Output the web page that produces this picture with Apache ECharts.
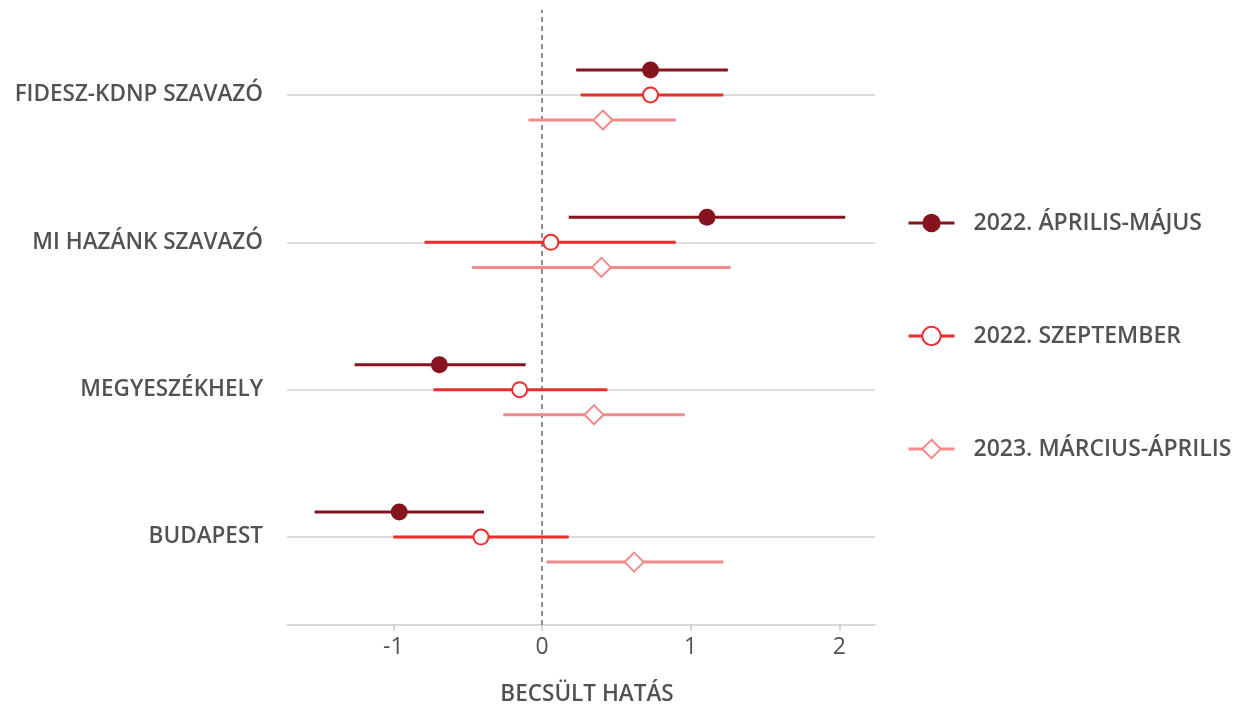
<!DOCTYPE html>
<html>
<head>
<meta charset="utf-8">
<script src="https://cdn.jsdelivr.net/npm/echarts@6/dist/echarts.min.js"></script>
<style>
html,body{margin:0;padding:0;background:#fff;}
#chart{width:1236px;height:705px;}
</style>
</head>
<body>
<div id="chart"></div>
<script>
// Categories (top to bottom)
const categories = ['FIDESZ-KDNP SZAVAZÓ', 'MI HAZÁNK SZAVAZÓ', 'MEGYESZÉKHELY', 'BUDAPEST'];
const seriesNames = ['2022. ÁPRILIS-MÁJUS', '2022. SZEPTEMBER', '2023. MÁRCIUS-ÁPRILIS'];

// 2022. április-május
const estAprMay = [0.73, 1.11, -0.69, -0.96];
const loAprMay  = [0.23, 0.18, -1.26, -1.53];
const hiAprMay  = [1.25, 2.04, -0.11, -0.39];
// 2022. szeptember
const estSep = [0.73, 0.06, -0.15, -0.41];
const loSep  = [0.26, -0.79, -0.73, -1.00];
const hiSep  = [1.22, 0.90, 0.44, 0.18];
// 2023. március-április
const estMar = [0.41, 0.40, 0.35, 0.62];
const loMar  = [-0.09, -0.47, -0.26, 0.03];
const hiMar  = [0.90, 1.27, 0.96, 1.22];

const xTicks = [-1, 0, 1, 2];

const colors = ['#85141f', '#ec2d2d', '#f28a8a'];
const symbols = ['circle', 'emptyCircle', 'emptyDiamond'];
const symbolSizes = [17, 15, 19];
const dodge = [0.17, 0, -0.17];

const n = categories.length;
const catPos = categories.map((c, i) => n - i); // FIDESZ=4 ... BUDAPEST=1

const groups = [
  [estAprMay, loAprMay, hiAprMay],
  [estSep, loSep, hiSep],
  [estMar, loMar, hiMar]
];

const font = '"Open Sans", "Noto Sans", sans-serif';
const textColor = '#505254';

const series = groups.map((g, s) => {
  const [est, lo, hi] = g;
  const data = [];
  for (let i = 0; i < n; i++) {
    const y = catPos[i] + dodge[s];
    data.push({ value: [lo[i], y], symbol: 'none' });
    data.push({ value: [est[i], y] });
    data.push({ value: [hi[i], y], symbol: 'none' });
    data.push('-');
  }
  return {
    name: seriesNames[s],
    type: 'line',
    data: data,
    connectNulls: false,
    symbol: symbols[s],
    symbolSize: symbolSizes[s],
    showAllSymbol: true,
    lineStyle: { color: colors[s], width: 3 },
    itemStyle: { color: colors[s], borderColor: colors[s], borderWidth: s === 0 ? 0 : 2.5 },
    emphasis: { disabled: true },
    z: 5 + s
  };
});

// gridlines at categories and dashed zero reference line
series.push({
  name: 'ref',
  type: 'line',
  data: [],
  z: 1,
  silent: true,
  markLine: {
    symbol: 'none',
    silent: true,
    label: { show: false },
    animation: false,
    data: catPos.map(v => ({ yAxis: v, lineStyle: { color: '#d0d0d0', width: 1.5, type: 'solid' } }))
      .concat([{ xAxis: 0, lineStyle: { color: '#6a6a6a', width: 1.5, type: [5, 4] } }])
  }
});

const labelMap = {};
catPos.forEach((v, i) => labelMap[v] = categories[i]);

const chart = echarts.init(document.getElementById('chart'), null, { renderer: 'canvas' });
chart.setOption({
  animation: false,
  backgroundColor: '#ffffff',
  grid: { left: 287, right: 361, top: 10, bottom: 80, containLabel: false, outerBoundsMode: 'none' },
  xAxis: {
    type: 'value',
    min: -1.715,
    max: 2.24,
    name: 'BECSÜLT HATÁS',
    nameLocation: 'middle',
    nameGap: 58,
    nameTextStyle: { color: textColor, fontSize: 22.5, fontWeight: 600, fontFamily: font, padding: [0, 0, 0, 12] },
    axisLine: { show: true, lineStyle: { color: '#cccccc', width: 1.5 } },
    axisTick: { show: true, customValues: xTicks, length: 6, lineStyle: { color: '#cccccc', width: 1.5 } },
    axisLabel: { customValues: xTicks, color: textColor, fontSize: 23, fontWeight: 500, fontFamily: font, margin: 11 },
    splitLine: { show: false }
  },
  yAxis: {
    type: 'value',
    min: 0.403,
    max: 4.577,
    axisLine: { show: false },
    axisTick: { show: true, customValues: catPos, length: 5, lineStyle: { color: '#d0d0d0', width: 1.5 } },
    axisLabel: {
      customValues: catPos,
      formatter: v => labelMap[Math.round(v)] || '',
      color: textColor, fontSize: 22.5, fontWeight: 600, fontFamily: font, margin: 24
    },
    splitLine: { show: false }
  },
  legend: {
    data: seriesNames,
    orient: 'vertical',
    left: 907,
    top: 211,
    padding: 0,
    itemWidth: 46,
    itemHeight: 23,
    itemGap: 89,
    lineStyle: { width: 3 },
    textStyle: { color: textColor, fontSize: 23, lineHeight: 24, fontWeight: 600, fontFamily: font, padding: [0, 0, 0, 14] },
    selectedMode: false
  },
  series: series
});
</script>
</body>
</html>
